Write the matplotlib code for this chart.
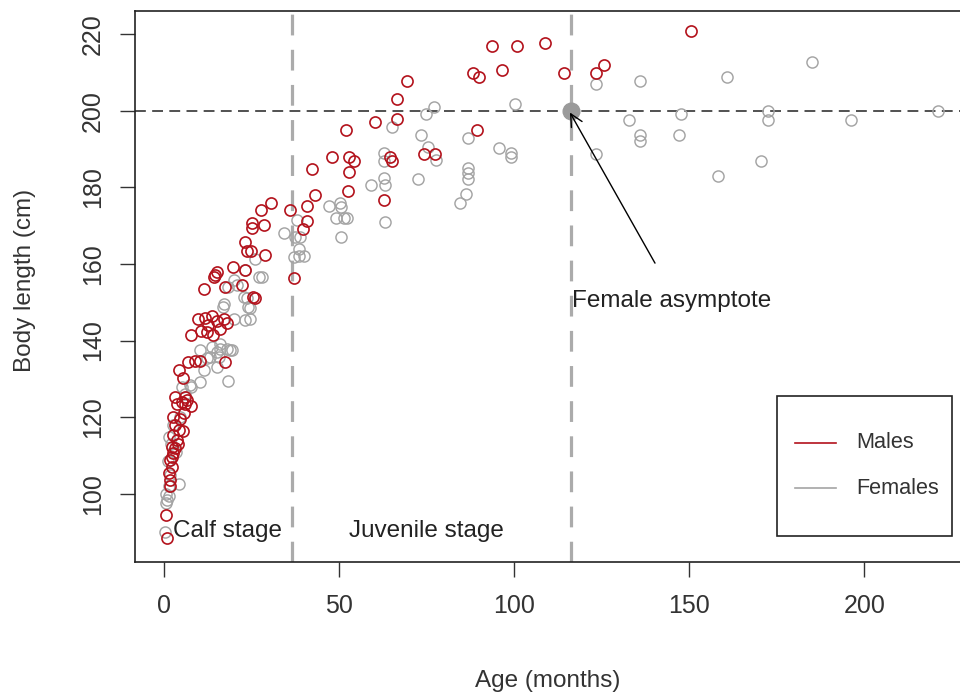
import matplotlib
matplotlib.use("Agg")
import matplotlib.pyplot as plt
from matplotlib.lines import Line2D
from matplotlib.patches import Rectangle

plt.rcParams['font.family'] = ['Liberation Sans', 'DejaVu Sans']

# ---- data (age in months, body length in cm) ----
male_age = [150.6, 114.1, 123.3, 125.7,
            93.7, 100.9, 108.8, 88.2, 89.9, 96.6, 69.3, 66.4, 66.5, 60.2, 52.0, 89.3,
            48.0, 52.8, 54.3, 64.6, 65.1, 74.1, 77.2, 42.2, 52.8, 43.1, 52.5, 40.8,
            36.0, 62.7, 40.8, 39.6, 37.0,
            30.6, 27.7, 25.1, 25.1, 28.6, 23.1, 23.6, 24.8, 28.9, 19.6, 23.1, 15.0,
            14.3, 11.2, 17.4, 26.0, 14.6, 22.1, 25.2,
            9.7, 11.5, 12.5, 13.5, 15.0, 16.0, 17.0, 18.0, 10.5, 14.0, 7.7, 12.1,
            6.9, 8.9, 10.3, 17.4, 4.1, 5.4, 3.1, 5.9, 5.0,
            3.5, 5.9, 2.6, 3.1, 4.1, 2.6, 3.5, 2.1, 2.6, 1.6, 2.1, 1.2, 1.6, 0.4, 0.7,
            4.5, 5.2, 3.0, 2.2, 4.0, 5.5, 6.5, 7.5, 1.5]
male_len = [220.7, 209.7, 209.7, 211.9,
            216.8, 216.8, 217.6, 209.7, 208.7, 210.6, 207.8, 202.9, 197.7, 196.9, 195.0, 195.0,
            187.8, 187.8, 186.9, 187.8, 186.9, 188.7, 188.7, 184.8, 183.9, 178.1, 178.9, 175.0,
            174.1, 176.8, 171.1, 169.1, 156.3,
            175.8, 174.1, 170.6, 169.3, 170.2, 165.6, 163.3, 163.3, 162.4, 159.3, 158.4, 157.8,
            156.5, 153.5, 154.1, 151.1, 157.0, 154.5, 151.4,
            145.5, 146.0, 144.0, 146.5, 145.0, 143.0, 145.5, 144.5, 142.5, 141.5, 141.4, 142.3,
            134.5, 134.7, 134.7, 134.3, 132.2, 130.1, 125.2, 125.2, 123.9,
            123.4, 123.5, 120.1, 117.9, 116.7, 115.4, 114.0, 112.3, 110.6, 108.8, 107.1, 105.4, 103.6, 94.5, 88.4,
            119.5, 116.5, 112.0, 109.5, 113.0, 121.0, 124.5, 123.0, 102.0]

female_age = [123.3, 135.9, 160.8, 185.1, 132.9, 147.6, 172.4, 172.4, 196.2, 221.0,
              135.9, 135.9, 147.1, 123.3, 170.4, 158.3,
              77.1, 74.8, 100.1, 65.1, 73.3, 86.9, 95.7, 99.1, 99.1, 75.3, 77.6, 62.9, 62.7,
              86.9, 86.9, 86.9, 72.4, 62.9, 63.1, 59.1, 86.1, 84.4, 47.1, 50.3, 50.5, 49.1,
              51.2, 52.2, 50.6, 63.1, 34.1, 37.9, 38.9, 37.4, 38.4, 38.4, 39.8, 37.0,
              26.0, 23.1, 27.0, 28.0, 20.0, 22.7, 24.0, 24.6, 17.0, 18.3, 20.7, 23.5, 24.6,
              16.9, 19.8, 15.9, 17.9, 15.0, 19.3, 10.2, 13.1, 15.0, 11.2, 10.2, 7.4, 23.1,
              13.5, 16.0, 18.8, 12.1, 15.5, 7.5, 18.3,
              0.6, 0.9, 1.2, 0.5, 0.3, 1.2, 1.0, 4.1, 1.2, 1.8, 2.5, 3.2, 1.5, 4.5, 5.0, 6.0]
female_len = [207.0, 207.8, 208.7, 212.7, 197.6, 199.0, 200.0, 197.6, 197.6, 200.0,
              193.7, 192.0, 193.7, 188.7, 186.9, 183.0,
              201.0, 199.0, 201.7, 195.8, 193.7, 192.9, 190.2, 188.9, 187.8, 190.4, 187.1, 188.9, 186.9,
              185.0, 183.6, 182.2, 182.2, 182.4, 180.7, 180.7, 178.2, 175.8, 175.2, 175.8, 174.8, 171.9,
              171.9, 171.9, 166.9, 171.0, 168.1, 171.5, 166.9, 166.9, 163.9, 162.1, 162.1, 161.7,
              161.3, 158.4, 156.5, 156.5, 155.8, 151.3, 148.7, 145.6, 149.5, 154.0, 154.5, 151.0, 148.4,
              148.8, 145.7, 139.2, 137.9, 137.0, 137.5, 137.5, 135.8, 133.2, 132.3, 129.2, 128.3, 145.3,
              138.3, 137.9, 137.5, 135.4, 135.8, 128.0, 129.5,
              100.0, 98.5, 99.5, 97.5, 90.0, 114.8, 108.5, 102.7, 102.0, 113.0, 118.0, 111.0, 105.0, 120.0, 128.0, 126.0]

stage_breaks = [36.5, 116.2]
asymptote_len = 200
asymptote_age = 116.2

W, H = 960, 695
fig = plt.figure(figsize=(W / 100, H / 100), dpi=100)
# plot region (right border sits at the image edge)
left_px, right_px, top_px, bot_px = 134.5, 961.0, 10.7, 561.5
ax = fig.add_axes([left_px / W, 1 - bot_px / H, (right_px - left_px) / W, (bot_px - top_px) / H])

x0_px, px_per_month = 164.3, 3.5
y200_px, px_per_cm = 110.6, 3.8325
ax.set_xlim((left_px - x0_px) / px_per_month, (right_px - x0_px) / px_per_month)
ax.set_ylim(200 - (bot_px - y200_px) / px_per_cm, 200 + (y200_px - top_px) / px_per_cm)

red = '#b3121c'
grey = '#a4a4a4'

# reference lines
for xb in stage_breaks:
    ax.axvline(xb, color='#ababab', lw=2.3, dashes=(6.5, 4.5), zorder=1)
ax.axhline(asymptote_len, color='#333333', lw=1.2, dashes=(6.5, 3.8), zorder=1)

ax.plot(female_age, female_len, 'o', ms=8.0, mfc='none', mec=grey, mew=1.05, zorder=2)
ax.plot(male_age, male_len, 'o', ms=8.0, mfc='none', mec=red, mew=1.2, zorder=3)

ax.plot([asymptote_age], [asymptote_len], 'o', ms=12, color='#9a9a9a', zorder=4)

ax.annotate('', xy=(asymptote_age - 0.3, asymptote_len - 0.5), xytext=(140.2, 160.2),
            arrowprops=dict(arrowstyle='->', color='black', lw=1.0,
                            mutation_scale=22, shrinkA=0, shrinkB=0), zorder=5)

ax.text(145.0, 150.4, 'Female asymptote', ha='center', va='center', fontsize=17.5, color='#222222')
ax.text(18.0, 90.3, 'Calf stage', ha='center', va='center', fontsize=17.5, color='#222222')
ax.text(75.0, 90.3, 'Juvenile stage', ha='center', va='center', fontsize=17.5, color='#222222')

# axes styling (R-like)
ax.set_xticks([0, 50, 100, 150, 200])
ax.set_yticks([100, 120, 140, 160, 180, 200, 220])
ax.tick_params(axis='both', direction='out', length=10.5, width=1.0, color='#333333',
               labelsize=18, labelcolor='#333333')
ax.tick_params(axis='x', pad=13)
ax.tick_params(axis='y', pad=11)
for lab in ax.get_yticklabels():
    lab.set_rotation(90)
    lab.set_va('center')
for s in ax.spines.values():
    s.set_linewidth(1.2)
    s.set_color('#222222')

fig.text(548 / W, 1 - 687 / H, 'Age (months)', ha='center', va='baseline', fontsize=17.5, color='#333333')
fig.text(25 / W, 1 - 280 / H, 'Body length (cm)', ha='center', va='center', rotation=90,
         fontsize=17.5, color='#333333')

# legend box (drawn in figure pixel coordinates)
def fx(p):
    return p / W

def fy(p):
    return 1 - p / H

fig.add_artist(Rectangle((fx(777.3), fy(536)), fx(951.7) - fx(777.3), fy(395.7) - fy(536),
                         transform=fig.transFigure, fill=False, lw=1.2, ec='#222222'))
for ypx, col, lab in [(442.7, red, 'Males'), (488.0, grey, 'Females')]:
    fig.add_artist(Line2D([fx(795), fx(836)], [fy(ypx), fy(ypx)], transform=fig.transFigure,
                          color=col, lw=1.2))
    fig.text(fx(856), fy(ypx), lab, ha='left', va='center', fontsize=15.6, color='#333333')

fig.savefig('out.png', dpi=100)
